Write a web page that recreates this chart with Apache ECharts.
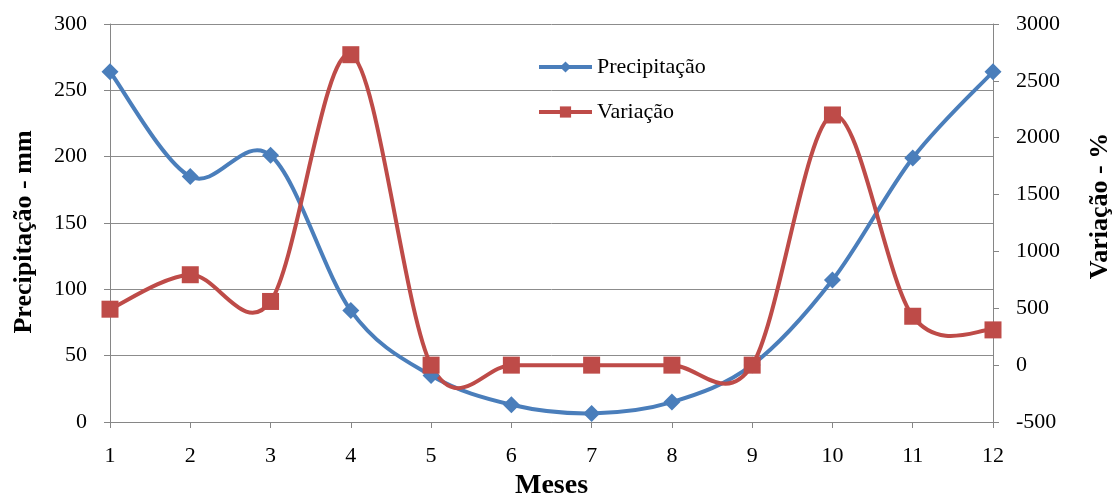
<!DOCTYPE html>
<html>
<head>
<meta charset="utf-8">
<script src="https://cdn.jsdelivr.net/npm/echarts@6/dist/echarts.min.js"></script>
<style>
html,body{margin:0;padding:0;background:#fff;}
#chart{width:1116px;height:496px;}
</style>
</head>
<body>
<div id="chart"></div>
<script>
var months = ['1','2','3','4','5','6','7','8','9','10','11','12'];
var precipitacao = [264, 185, 201, 84, 35, 13, 6.5, 15, 43, 107, 199, 264];
var variacao = [492, 795, 560, 2730, 0, 0, 0, 0, 0, 2200, 430, 310];
var leftTicks = {min: 0, max: 300, interval: 50};
var rightTicks = {min: -500, max: 3000, interval: 500};

var FONT = "'Liberation Serif', 'Times New Roman', serif";
var axisGray = '#868686';
var BLUE = '#4a7ebb';
var RED = '#be4b48';

// Smooth curve (Excel-like cardinal spline) drawn through library coordinates
function curveSeries(values, yAxisIndex, color, z) {
  var n = values.length;
  return {
    type: 'custom',
    name: '_curve' + yAxisIndex,
    yAxisIndex: yAxisIndex,
    z: z,
    silent: true,
    data: values.map(function (v, i) { return [i, v]; }),
    encode: {x: 0, y: 1},
    renderItem: function (params, api) {
      var i = params.dataIndex;
      if (i >= n - 1) return null;
      function P(k) {
        k = Math.max(0, Math.min(n - 1, k));
        return api.coord([k, values[k]]);
      }
      var p0 = P(i - 1), p1 = P(i), p2 = P(i + 1), p3 = P(i + 2);
      var t = 1 / 6;
      return {
        type: 'bezierCurve',
        shape: {
          x1: p1[0], y1: p1[1],
          x2: p2[0], y2: p2[1],
          cpx1: p1[0] + (p2[0] - p0[0]) * t,
          cpy1: p1[1] + (p2[1] - p0[1]) * t,
          cpx2: p2[0] - (p3[0] - p1[0]) * t,
          cpy2: p2[1] - (p3[1] - p1[1]) * t
        },
        style: {stroke: color, lineWidth: 4, fill: null, lineCap: 'round'}
      };
    }
  };
}

var chart = echarts.init(document.getElementById('chart'), null, {renderer: 'canvas'});
chart.setOption({
  animation: false,
  backgroundColor: '#ffffff',
  textStyle: {fontFamily: FONT, color: '#000'},
  grid: {left: 110, right: 123, top: 24, bottom: 74, containLabel: false, outerBoundsMode: 'none'},
  legend: {
    orient: 'vertical',
    left: 537,
    top: 56,
    padding: 0,
    itemWidth: 53,
    itemHeight: 14,
    itemGap: 23,
    textStyle: {fontFamily: FONT, fontSize: 22, color: '#000'},
    data: [
      {name: 'Precipitação', lineStyle: {color: BLUE, width: 4, opacity: 1}},
      {name: 'Variação', lineStyle: {color: RED, width: 4, opacity: 1}}
    ]
  },
  xAxis: {
    type: 'category',
    data: months,
    boundaryGap: false,
    name: 'Meses',
    nameLocation: 'middle',
    nameGap: 49,
    nameTextStyle: {fontFamily: FONT, fontSize: 28, fontWeight: 'bold', color: '#000'},
    axisLine: {lineStyle: {color: axisGray, width: 1}},
    axisTick: {show: true, inside: false, length: 6, lineStyle: {color: axisGray}},
    axisLabel: {fontFamily: FONT, fontSize: 22, color: '#000', margin: 23},
    splitLine: {show: false}
  },
  yAxis: [
    {
      type: 'value',
      position: 'left',
      min: leftTicks.min, max: leftTicks.max, interval: leftTicks.interval,
      name: 'Precipitação - mm',
      nameLocation: 'middle',
      nameGap: 73,
      nameRotate: 90,
      nameTextStyle: {fontFamily: FONT, fontSize: 26, fontWeight: 'bold', color: '#000', padding: [0, 18, 0, 0]},
      axisLine: {show: true, lineStyle: {color: axisGray, width: 1}},
      axisTick: {show: true, inside: false, length: 6, lineStyle: {color: axisGray}},
      axisLabel: {fontFamily: FONT, fontSize: 22, color: '#000', margin: 23},
      splitLine: {show: true, lineStyle: {color: '#8c8c8c', width: 1}}
    },
    {
      type: 'value',
      position: 'right',
      min: rightTicks.min, max: rightTicks.max, interval: rightTicks.interval,
      name: 'Variação - %',
      nameLocation: 'middle',
      nameGap: 94,
      nameRotate: 90,
      nameTextStyle: {fontFamily: FONT, fontSize: 26, fontWeight: 'bold', color: '#000', padding: [0, 0, 0, 34]},
      axisLine: {show: true, lineStyle: {color: axisGray, width: 1}},
      axisTick: {show: true, inside: false, length: 6, lineStyle: {color: axisGray}},
      axisLabel: {fontFamily: FONT, fontSize: 22, color: '#000', margin: 23, formatter: function (v) { return String(v); }},
      splitLine: {show: false}
    }
  ],
  series: [
    curveSeries(precipitacao, 0, BLUE, 2),
    curveSeries(variacao, 1, RED, 3),
    {
      name: 'Precipitação',
      type: 'line',
      yAxisIndex: 0,
      data: precipitacao,
      symbol: 'diamond',
      symbolSize: 17,
      itemStyle: {color: BLUE},
      lineStyle: {color: BLUE, width: 4, opacity: 0},
      z: 4
    },
    {
      name: 'Variação',
      type: 'line',
      yAxisIndex: 1,
      data: variacao,
      symbol: 'rect',
      symbolSize: 17,
      itemStyle: {color: RED},
      lineStyle: {color: RED, width: 4, opacity: 0},
      z: 5
    }
  ]
});
</script>
</body>
</html>
